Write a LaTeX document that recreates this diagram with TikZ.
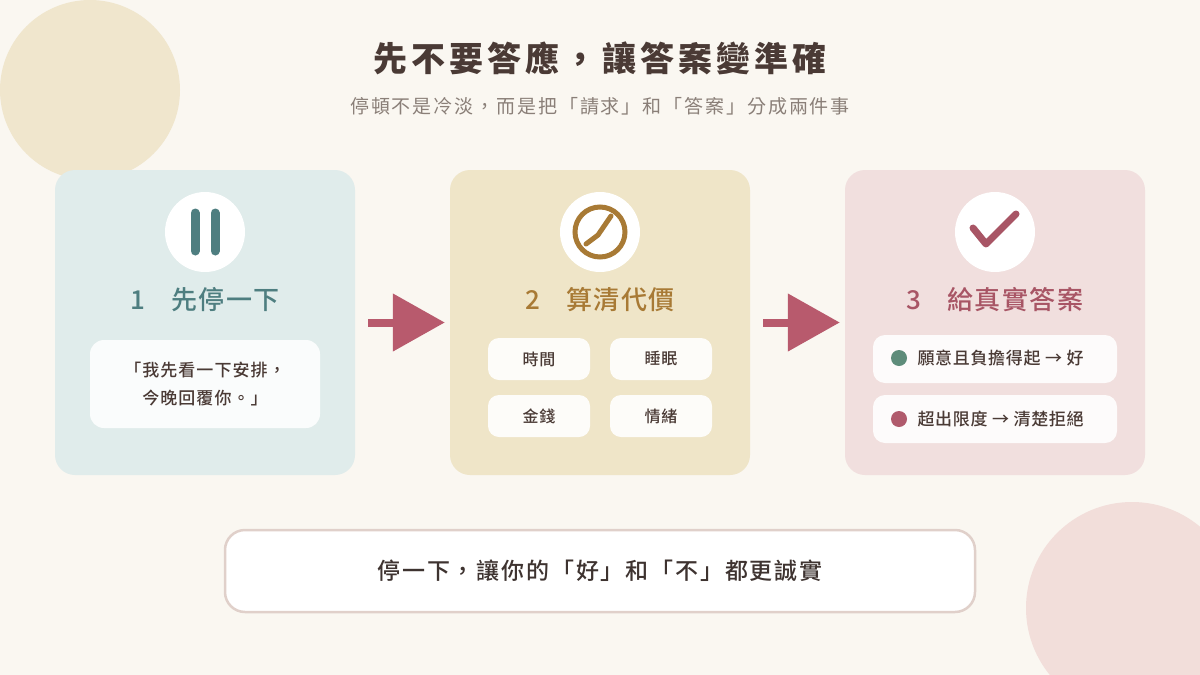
\documentclass[tikz,border=0pt]{standalone}
\usepackage{fontspec}
\setmainfont{Noto Sans CJK TC}
\newfontfamily\med{Noto Sans CJK TC Medium}
\usetikzlibrary{arrows.meta}
\definecolor{bg}{HTML}{FAF7F1}
\definecolor{ink}{HTML}{4A3A35}
\definecolor{teal}{HTML}{4E7E80}
\definecolor{gold}{HTML}{A87A35}
\definecolor{rose}{HTML}{A85565}
\definecolor{arr}{HTML}{B85A6D}
\newcommand{\ls}[1]{\addfontfeature{LetterSpace=#1}}
\begin{document}
\begin{tikzpicture}[x=1pt,y=-1pt,
 card/.style={draw=none,rounded corners=20pt,minimum width=300pt,minimum height=305pt},
 icon/.style={circle,fill=white,minimum size=80pt,inner sep=0},
 pill/.style={fill=white,fill opacity=0.9,text opacity=1,rounded corners=11pt,minimum width=102pt,minimum height=42pt,font=\med\fontsize{16pt}{18pt}\selectfont\ls{6},text=ink},
 pill3/.style={fill=white,fill opacity=0.9,text opacity=1,rounded corners=12pt,minimum width=244pt,minimum height=48pt,text=ink},
 head/.style={font=\med\fontsize{26pt}{30pt}\selectfont\ls{6}},
 flow/.style={draw=arr,line width=8pt,-{Triangle[length=52pt,width=56pt]}}]
\fill[bg] (0,0) rectangle (1200,675);
\useasboundingbox (0,0) rectangle (1200,675);
\fill[fill={rgb,255:red,240;green,230;blue,205}] (90,90) circle (90);
\fill[fill={rgb,255:red,242;green,222;blue,218}] (1132,608) circle (106);
\node[text=ink,font=\fontsize{34pt}{38pt}\selectfont\bfseries\ls{12}] (title) at (600,58) {先不要答應，讓答案變準確};
\node[text={rgb,255:red,138;green,127;blue,120},font=\fontsize{19pt}{22pt}\selectfont\ls{10}] (sub) at (600,106) {停頓不是冷淡，而是把「請求」和「答案」分成兩件事};
\node[card,fill={rgb,255:red,224;green,236;blue,235}] (c1) at (205,322.5) {};
\node[card,fill={rgb,255:red,239;green,229;blue,200}] (c2) at (600,322.5) {};
\node[card,fill={rgb,255:red,241;green,223;blue,222}] (c3) at (995,322.5) {};
\node[icon] (i1) at (205,232) {};
\node[icon] (i2) at (600,232) {};
\node[icon] (i3) at (995,232) {};
\draw[teal,line width=9pt,line cap=round] (195,213)--(195,251) (215,213)--(215,251);
\draw[gold,line width=5pt] (600,232) circle (25);
\draw[gold,line width=5pt,line cap=round] (586,244)--(598,235)--(611,216);
\draw[rose,line width=7pt,line cap=round,line join=round] (973,228)--(986,244)--(1016,214);
\node[head,text=teal] (h1) at (205,300) {1\hspace{1em}先停一下};
\node[head,text=gold] (h2) at (600,300) {2\hspace{1em}算清代價};
\node[head,text=rose] (h3) at (995,300) {3\hspace{1em}給真實答案};
\node[fill=white,fill opacity=0.85,text opacity=1,rounded corners=14pt,minimum width=230pt,minimum height=88pt,align=center,text=ink,font=\med\fontsize{17pt}{28pt}\selectfont\ls{6}] (q) at (205,384) {「我先看一下安排，\\今晚回覆你。」};
\node[pill] (p1) at (539,359) {時間};
\node[pill] (p2) at (661,359) {睡眠};
\node[pill] (p3) at (539,416) {金錢};
\node[pill] (p4) at (661,416) {情緒};
\node[pill3] (r1) at (995,359) {};
\node[pill3] (r2) at (995,419) {};
\fill[fill={rgb,255:red,94;green,140;blue,122}] (899,358) circle (8);
\fill[fill={rgb,255:red,176;green,90;blue,108}] (899,419) circle (8);
\node[anchor=west,text=ink,font=\med\fontsize{17pt}{20pt}\selectfont\ls{4}] (t1) at (914,358) {願意且負擔得起 → 好};
\node[anchor=west,text=ink,font=\med\fontsize{17pt}{20pt}\selectfont\ls{4}] (t2) at (914,419) {超出限度 → 清楚拒絕};
\draw[flow,shorten <=13pt,shorten >=5pt] (c1.east)--(c2.west);
\draw[flow,shorten <=13pt,shorten >=5pt] (c2.east)--(c3.west);
\node[draw={rgb,255:red,224;green,208;blue,202},line width=2.5pt,fill=white,rounded corners=20pt,minimum width=750pt,minimum height=82pt,text={rgb,255:red,62;green,51;blue,48},font=\med\fontsize{23pt}{26pt}\selectfont\ls{8}] (bot) at (600,571) {停一下，讓你的「好」和「不」都更誠實};
\end{tikzpicture}
\end{document}
